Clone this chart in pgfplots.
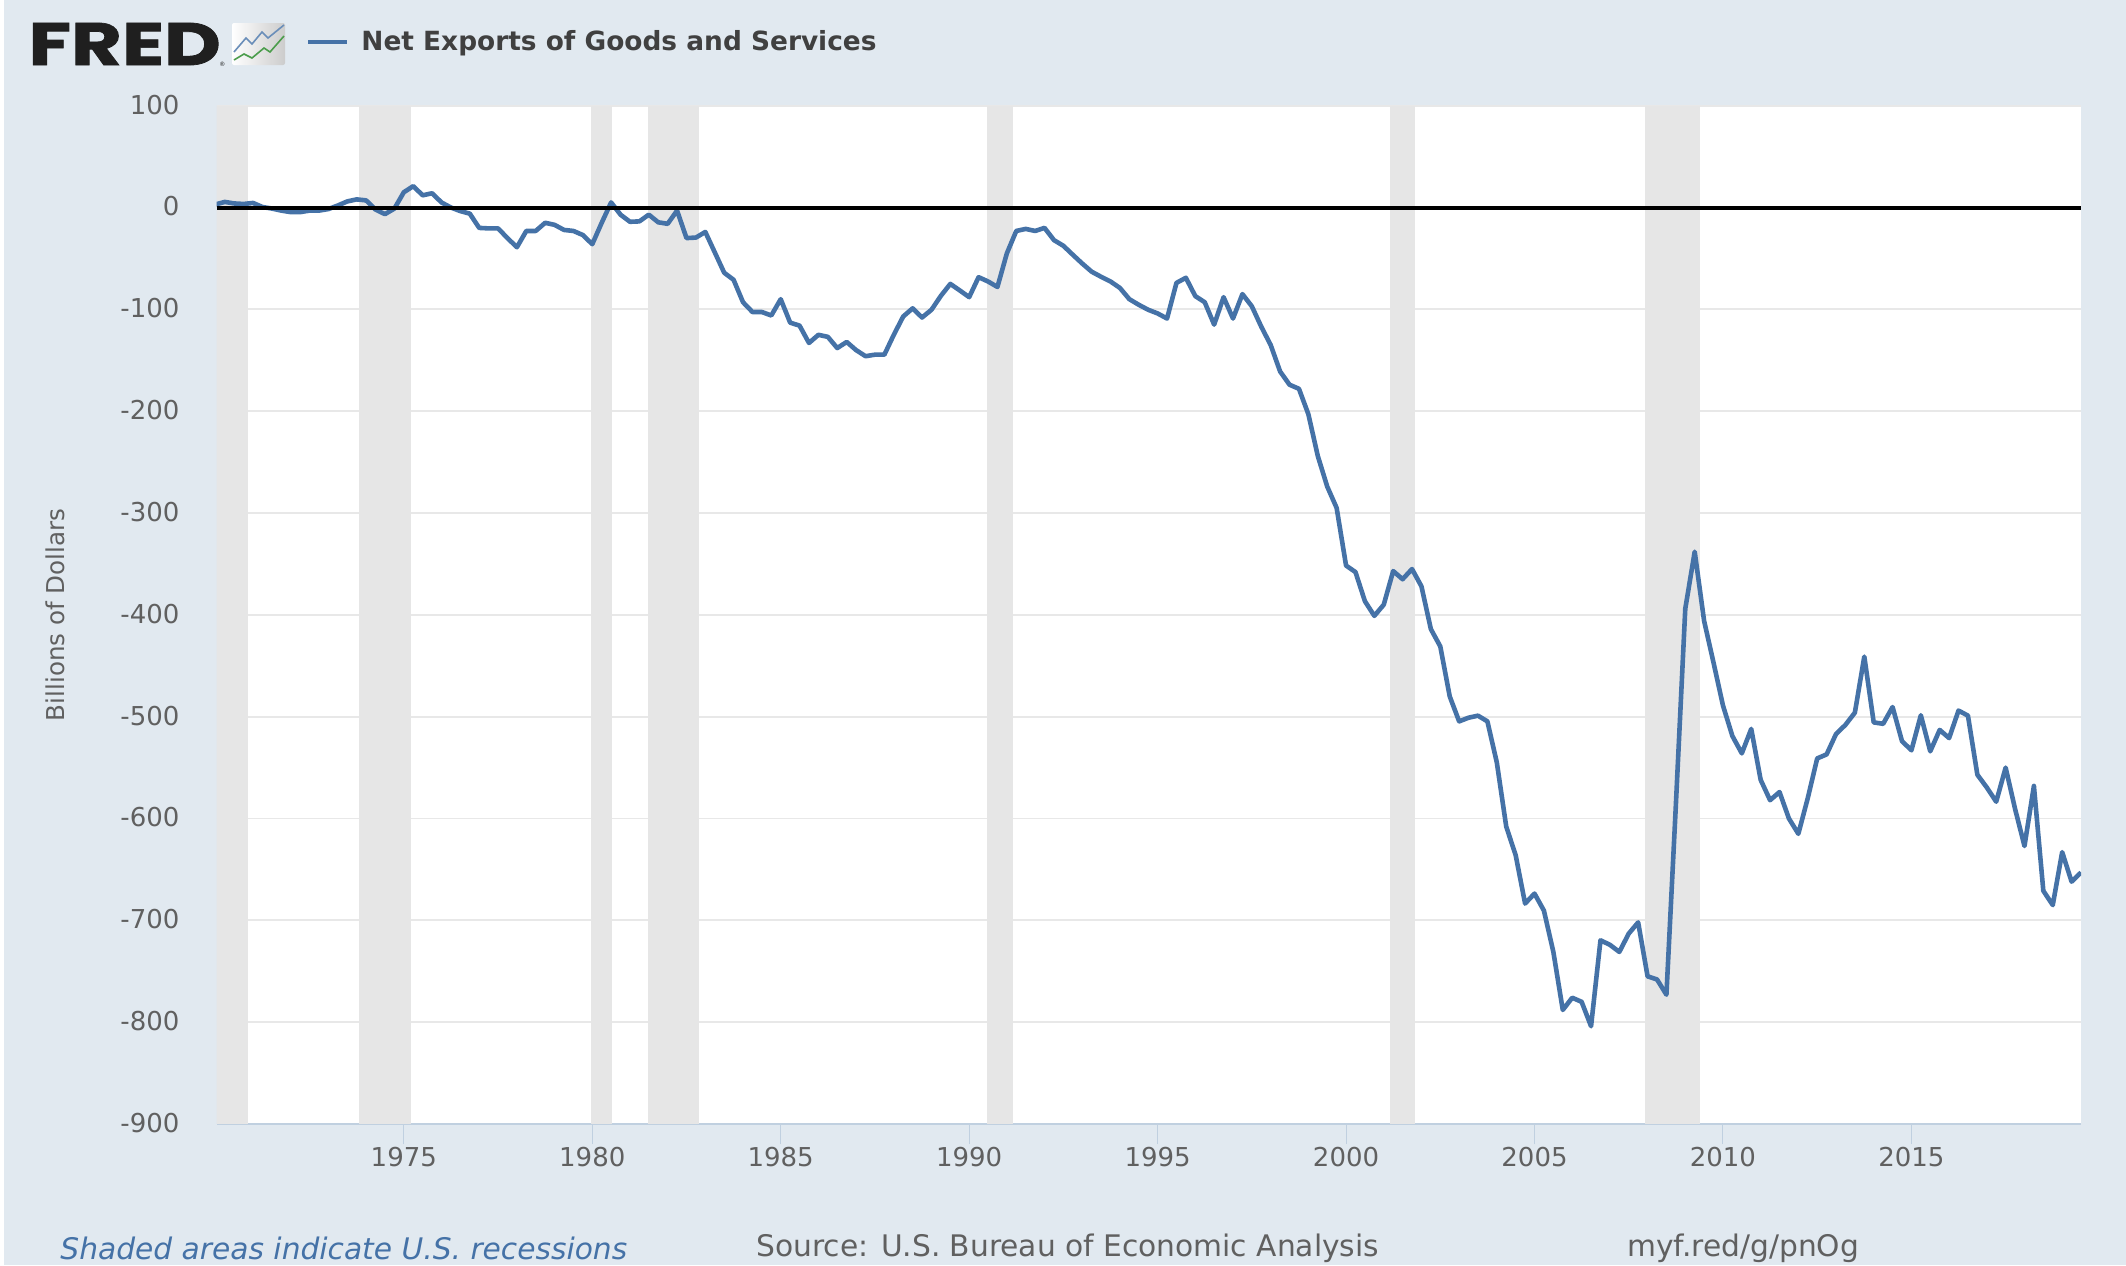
\documentclass[border=0pt]{standalone}
\usepackage{fontspec}
\setmainfont{DejaVu Sans}
\newfontfamily\logofont{Poppins}[BoldFeatures={FakeBold=1.2}]
\usepackage{pgfplots}
\pgfplotsset{compat=1.18}
\definecolor{pagebg}{HTML}{E1E9F0}
\definecolor{band}{HTML}{E6E6E6}
\definecolor{gridc}{HTML}{E8E8E8}
\definecolor{series}{HTML}{4572A7}
\definecolor{tickc}{HTML}{C0D0E0}
\definecolor{labc}{HTML}{606060}
\begin{document}
\begin{tikzpicture}
\begin{scope}[x=0.5pt,y=-0.5pt]
\path[use as bounding box] (0,0) rectangle (2126,1265);
\fill[pagebg] (4,0) rectangle (2126,1265);
% logo
\node[anchor=west,inner sep=0pt,text=black!88] at (28,44) {\scalebox{1.3}[1]{\fontsize{30}{30}\logofont\bfseries FRED}};
\node[anchor=west,inner sep=0pt,text=black!88] at (219,64) {\fontsize{3}{3}\selectfont ®};
\shade[left color=white,right color=black!20,rounded corners=1pt] (232,23) rectangle (285,65);
\draw[series!80,line width=0.8pt] (234,52)--(246,38)--(252,44)--(262,32)--(268,38)--(284,25);
\draw[green!45!black!70,line width=0.8pt] (234,60)--(244,54)--(252,58)--(264,48)--(270,52)--(284,36);
% legend
\draw[series,line width=1.9pt] (308,42)--(347,42);
\node[anchor=west,inner sep=0pt,text=black!75] at (361,43) {\fontsize{13.2}{15}\selectfont\bfseries Net Exports of Goods and Services};
% footer
\node[anchor=west,inner sep=0pt,text=series] at (60,1248) {\fontsize{14.85}{16}\selectfont\itshape Shaded areas indicate U.S. recessions};
\node[anchor=west,inner sep=0pt,text=labc] at (756,1248) {\fontsize{14.85}{16}\selectfont Source: U.S. Bureau of Economic Analysis};
\node[anchor=west,inner sep=0pt,text=labc] at (1627,1248) {\fontsize{14.85}{16}\selectfont myf.red/g/pnOg};
\end{scope}
\begin{axis}[
  at={(108.25pt,-562pt)},anchor=south west,
  scale only axis,width=932.25pt,height=509.15pt,
  xmin=1970.03,xmax=2019.5,ymin=-900,ymax=100,
  axis background/.style={fill=white},
  separate axis lines,
  x axis line style={draw=tickc,line width=0.9pt},
  y axis line style={draw=none},
  axis x line*=bottom,axis y line*=left,
  xtick align=outside,
  xtick={1975,1980,1985,1990,1995,2000,2005,2010,2015},
  xticklabels={1975,1980,1985,1990,1995,2000,2005,2010,2015},
  ytick={-900,-800,-700,-600,-500,-400,-300,-200,-100,0,100},
  yticklabels={-900,-800,-700,-600,-500,-400,-300,-200,-100,0,100},
  ymajorgrids,
  grid style={gridc,line width=0.9pt},
  major tick length=10pt,
  x tick style={tickc,line width=0.5pt},
  y tick style={draw=none},
  tick label style={font=\fontsize{13}{14}\selectfont,text=labc},
  xticklabel style={yshift=2pt},
  yticklabel style={xshift=-15pt,yshift=0.5pt},
  ylabel={Billions of Dollars},
  y label style={at={(axis description cs:-0.0863,0.5)},anchor=center,font=\fontsize{12.3}{14}\selectfont,text=labc},
  no markers,
]
\addplot[fill=band,draw=none,forget plot] coordinates {(1969,-900)(1970.86,-900)(1970.86,100)(1969,100)} --cycle;
\addplot[fill=band,draw=none,forget plot] coordinates {(1973.80,-900)(1975.18,-900)(1975.18,100)(1973.80,100)} --cycle;
\addplot[fill=band,draw=none,forget plot] coordinates {(1979.97,-900)(1980.52,-900)(1980.52,100)(1979.97,100)} --cycle;
\addplot[fill=band,draw=none,forget plot] coordinates {(1981.47,-900)(1982.82,-900)(1982.82,100)(1981.47,100)} --cycle;
\addplot[fill=band,draw=none,forget plot] coordinates {(1990.48,-900)(1991.15,-900)(1991.15,100)(1990.48,100)} --cycle;
\addplot[fill=band,draw=none,forget plot] coordinates {(2001.16,-900)(2001.84,-900)(2001.84,100)(2001.16,100)} --cycle;
\addplot[fill=band,draw=none,forget plot] coordinates {(2007.92,-900)(2009.39,-900)(2009.39,100)(2007.92,100)} --cycle;
\addplot[series,line width=2.3pt,line join=round] coordinates {
(1970.00,3)(1970.25,5.5)(1970.50,4)(1970.75,3.5)
(1971.00,4.5)(1971.25,0.5)(1971.50,-1)(1971.75,-3)
(1972.00,-4.5)(1972.25,-4.5)(1972.50,-3)(1972.75,-3)
(1973.00,-1.5)(1973.25,2)(1973.50,6)(1973.75,8)
(1974.00,7)(1974.25,-2)(1974.50,-6.5)(1974.75,-1)
(1975.00,15)(1975.25,21)(1975.50,12)(1975.75,14)
(1976.00,5)(1976.25,0)(1976.50,-3.5)(1976.75,-6)
(1977.00,-20)(1977.25,-20.5)(1977.50,-20.5)(1977.75,-30)
(1978.00,-39)(1978.25,-23)(1978.50,-23)(1978.75,-15)
(1979.00,-17)(1979.25,-22)(1979.50,-23)(1979.75,-27)
(1980.00,-36)(1980.25,-15)(1980.50,5)(1980.75,-7)
(1981.00,-14)(1981.25,-13.6)(1981.50,-7)(1981.75,-14.5)
(1982.00,-16)(1982.25,-3)(1982.50,-30)(1982.75,-29.5)
(1983.00,-24)(1983.25,-44)(1983.50,-64)(1983.75,-71)
(1984.00,-93)(1984.25,-102.6)(1984.50,-102.6)(1984.75,-106)
(1985.00,-90)(1985.25,-113)(1985.50,-116)(1985.75,-133)
(1986.00,-125)(1986.25,-127)(1986.50,-138)(1986.75,-132)
(1987.00,-140)(1987.25,-146)(1987.50,-144.5)(1987.75,-144.5)
(1988.00,-125)(1988.25,-107)(1988.50,-99)(1988.75,-108)
(1989.00,-100.4)(1989.25,-86.7)(1989.50,-75)(1989.75,-81.4)
(1990.00,-88)(1990.25,-68.4)(1990.50,-72.6)(1990.75,-78)
(1991.00,-45)(1991.25,-23)(1991.50,-21)(1991.75,-23)
(1992.00,-20)(1992.25,-32)(1992.50,-37.6)(1992.75,-46.4)
(1993.00,-55)(1993.25,-63)(1993.50,-68)(1993.75,-72.6)
(1994.00,-79)(1994.25,-90)(1994.50,-95.5)(1994.75,-100.4)
(1995.00,-104)(1995.25,-109)(1995.50,-74)(1995.75,-69)
(1996.00,-87)(1996.25,-93)(1996.50,-115)(1996.75,-88)
(1997.00,-109)(1997.25,-85)(1997.50,-97)(1997.75,-117)
(1998.00,-135)(1998.25,-161)(1998.50,-174)(1998.75,-178)
(1999.00,-203)(1999.25,-244)(1999.50,-274)(1999.75,-295)
(2000.00,-351.6)(2000.25,-358)(2000.50,-386.6)(2000.75,-401)
(2001.00,-390)(2001.25,-357)(2001.50,-365)(2001.75,-355)
(2002.00,-372)(2002.25,-414)(2002.50,-431)(2002.75,-480)
(2003.00,-504.6)(2003.25,-501)(2003.50,-499)(2003.75,-504.6)
(2004.00,-545)(2004.25,-608)(2004.50,-636)(2004.75,-683.5)
(2005.00,-673.7)(2005.25,-690.5)(2005.50,-731)(2005.75,-788)
(2006.00,-776)(2006.25,-780)(2006.50,-804)(2006.75,-719.6)
(2007.00,-724)(2007.25,-731)(2007.50,-713)(2007.75,-702)
(2008.00,-755)(2008.25,-758)(2008.50,-773)(2008.75,-587)
(2009.00,-394)(2009.25,-338)(2009.50,-406)(2009.75,-447)
(2010.00,-489)(2010.25,-519)(2010.50,-536)(2010.75,-512)
(2011.00,-562)(2011.25,-582)(2011.50,-574)(2011.75,-600)
(2012.00,-615)(2012.25,-580)(2012.50,-541)(2012.75,-537)
(2013.00,-517)(2013.25,-508)(2013.50,-496)(2013.75,-441)
(2014.00,-505.6)(2014.25,-507)(2014.50,-490.5)(2014.75,-524)
(2015.00,-533)(2015.25,-498.6)(2015.50,-534)(2015.75,-513)
(2016.00,-521)(2016.25,-494)(2016.50,-499)(2016.75,-557)
(2017.00,-569.5)(2017.25,-583.5)(2017.50,-550)(2017.75,-590.5)
(2018.00,-627)(2018.25,-568)(2018.50,-671)(2018.75,-685)
(2019.00,-633)(2019.25,-662)(2019.50,-653)
};
\addplot[black,line width=2pt] coordinates {(1970.03,0)(2019.5,0)};
\end{axis}
\end{tikzpicture}
\end{document}
